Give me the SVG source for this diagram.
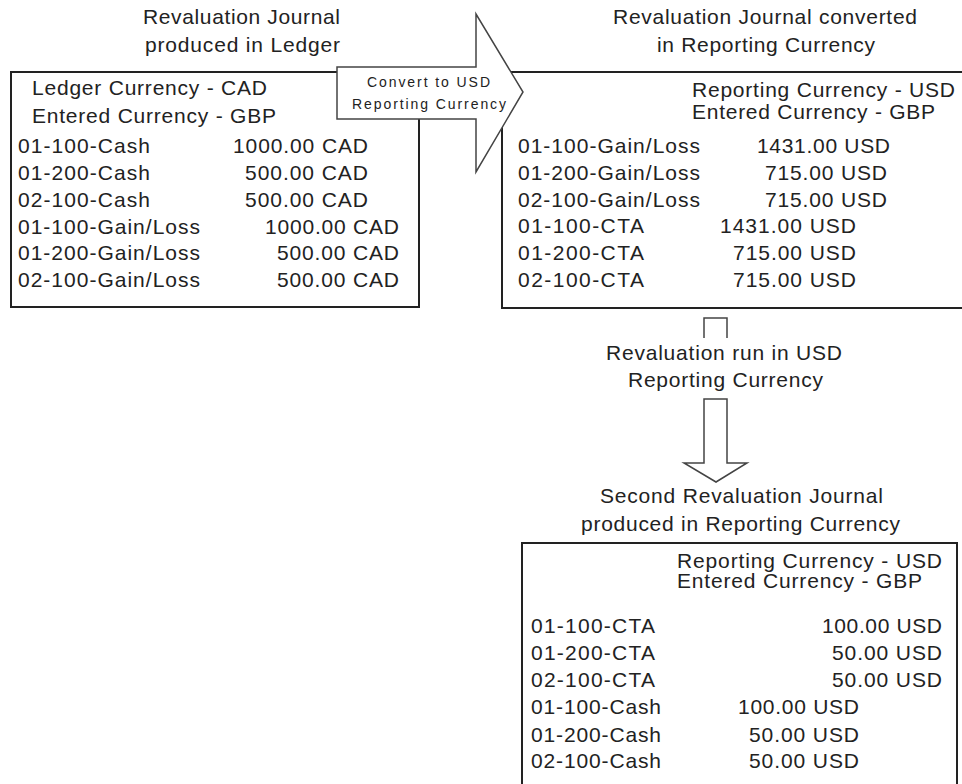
<svg xmlns="http://www.w3.org/2000/svg" width="962" height="784" viewBox="0 0 962 784">
<style>
text{font-family:"Liberation Sans",Arial,sans-serif;font-size:21px;fill:#222}
.sm{font-size:14px}
.box{fill:none;stroke:#222;stroke-width:2}
.arr{fill:#fff;stroke:#444;stroke-width:1.5;stroke-linejoin:miter}
</style>
<rect width="962" height="784" fill="#fff"/>
<g id="title-ledger">
<text x="143" y="24" textLength="197" lengthAdjust="spacing">Revaluation Journal</text>
<text x="145" y="52" textLength="195" lengthAdjust="spacing">produced in Ledger</text>
</g>
<g id="title-converted">
<text x="613" y="24" textLength="304" lengthAdjust="spacing">Revaluation Journal converted</text>
<text x="657" y="52" textLength="218" lengthAdjust="spacing">in Reporting Currency</text>
</g>
<g id="ledger-journal">
<rect class="box" x="11" y="72" width="408" height="235"/>
<text x="32" y="95" textLength="235" lengthAdjust="spacing">Ledger Currency - CAD</text>
<text x="32" y="123" textLength="244" lengthAdjust="spacing">Entered Currency - GBP</text>
<text x="18" y="153" textLength="132" lengthAdjust="spacing">01-100-Cash</text>
<text x="18" y="180" textLength="132" lengthAdjust="spacing">01-200-Cash</text>
<text x="18" y="207" textLength="132" lengthAdjust="spacing">02-100-Cash</text>
<text x="18" y="234" textLength="182" lengthAdjust="spacing">01-100-Gain/Loss</text>
<text x="18" y="260" textLength="182" lengthAdjust="spacing">01-200-Gain/Loss</text>
<text x="18" y="287" textLength="182" lengthAdjust="spacing">02-100-Gain/Loss</text>
<text x="233" y="153" textLength="135" lengthAdjust="spacing">1000.00 CAD</text>
<text x="245" y="180" textLength="123" lengthAdjust="spacing">500.00 CAD</text>
<text x="245" y="207" textLength="123" lengthAdjust="spacing">500.00 CAD</text>
<text x="265" y="234" textLength="134" lengthAdjust="spacing">1000.00 CAD</text>
<text x="277" y="260" textLength="122" lengthAdjust="spacing">500.00 CAD</text>
<text x="277" y="287" textLength="122" lengthAdjust="spacing">500.00 CAD</text>
</g>
<g id="converted-journal">
<rect class="box" x="502" y="72" width="470" height="236"/>
<text x="692" y="97" textLength="263" lengthAdjust="spacing">Reporting Currency - USD</text>
<text x="692" y="119" textLength="243" lengthAdjust="spacing">Entered Currency - GBP</text>
<text x="518" y="153" textLength="182" lengthAdjust="spacing">01-100-Gain/Loss</text>
<text x="518" y="180" textLength="182" lengthAdjust="spacing">01-200-Gain/Loss</text>
<text x="518" y="207" textLength="182" lengthAdjust="spacing">02-100-Gain/Loss</text>
<text x="518" y="233" textLength="126" lengthAdjust="spacing">01-100-CTA</text>
<text x="518" y="260" textLength="126" lengthAdjust="spacing">01-200-CTA</text>
<text x="518" y="287" textLength="126" lengthAdjust="spacing">02-100-CTA</text>
<text x="757" y="153" textLength="133" lengthAdjust="spacing">1431.00 USD</text>
<text x="765" y="180" textLength="122" lengthAdjust="spacing">715.00 USD</text>
<text x="765" y="207" textLength="122" lengthAdjust="spacing">715.00 USD</text>
<text x="720" y="233" textLength="136" lengthAdjust="spacing">1431.00 USD</text>
<text x="733" y="260" textLength="123" lengthAdjust="spacing">715.00 USD</text>
<text x="733" y="287" textLength="123" lengthAdjust="spacing">715.00 USD</text>
</g>
<g id="connectors">
<g id="convert-arrow">
<polygon class="arr" points="337,67 476,67 476,14 523,92 476,172 476,119 337,119"/>
<text class="sm" x="367" y="87" textLength="123" lengthAdjust="spacing">Convert to USD</text>
<text class="sm" x="352" y="109" textLength="154" lengthAdjust="spacing">Reporting Currency</text>
</g>
<g id="revalue-arrow">
<path class="arr" fill="none" d="M704,338 V318 H727 V338"/>
<polygon class="arr" points="704,399 727,399 727,463 747,463 716,482 684,463 704,463"/>
<text x="606" y="360" textLength="236" lengthAdjust="spacing">Revaluation run in USD</text>
<text x="628" y="387" textLength="195" lengthAdjust="spacing">Reporting Currency</text>
</g>
</g>
<g id="title-second">
<text x="600" y="503" textLength="283" lengthAdjust="spacing">Second Revaluation Journal</text>
<text x="581" y="531" textLength="319" lengthAdjust="spacing">produced in Reporting Currency</text>
</g>
<g id="second-journal">
<rect class="box" x="522" y="543" width="435" height="260"/>
<text x="677" y="568" textLength="265" lengthAdjust="spacing">Reporting Currency - USD</text>
<text x="677" y="588" textLength="245" lengthAdjust="spacing">Entered Currency - GBP</text>
<text x="531" y="633" textLength="124" lengthAdjust="spacing">01-100-CTA</text>
<text x="531" y="660" textLength="124" lengthAdjust="spacing">01-200-CTA</text>
<text x="531" y="687" textLength="124" lengthAdjust="spacing">02-100-CTA</text>
<text x="531" y="714" textLength="130" lengthAdjust="spacing">01-100-Cash</text>
<text x="531" y="742" textLength="130" lengthAdjust="spacing">01-200-Cash</text>
<text x="531" y="768" textLength="130" lengthAdjust="spacing">02-100-Cash</text>
<text x="822" y="633" textLength="120" lengthAdjust="spacing">100.00 USD</text>
<text x="832" y="660" textLength="110" lengthAdjust="spacing">50.00 USD</text>
<text x="832" y="687" textLength="110" lengthAdjust="spacing">50.00 USD</text>
<text x="738" y="714" textLength="121" lengthAdjust="spacing">100.00 USD</text>
<text x="749" y="742" textLength="110" lengthAdjust="spacing">50.00 USD</text>
<text x="749" y="768" textLength="110" lengthAdjust="spacing">50.00 USD</text>
</g>
</svg>
